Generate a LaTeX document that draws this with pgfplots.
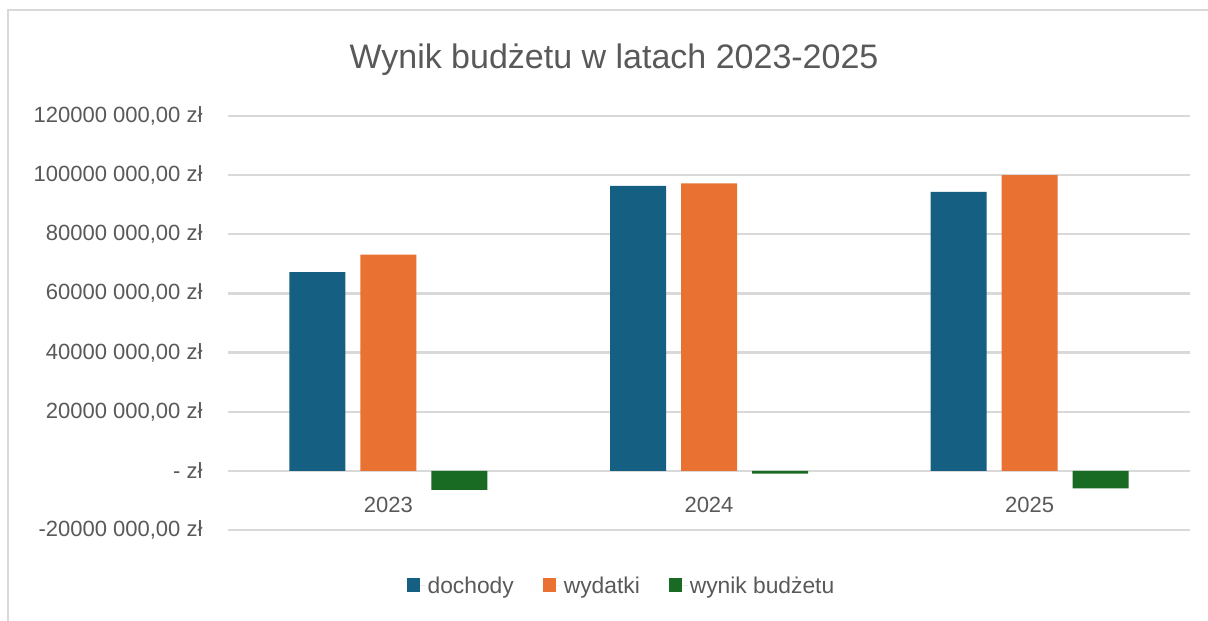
\documentclass[border=0pt]{standalone}
\usepackage{pgfplots}
\pgfplotsset{compat=1.18}
\usepackage{fontspec}
\setmainfont{Liberation Sans}
\definecolor{cDoch}{HTML}{156082}
\definecolor{cWyd}{HTML}{E97132}
\definecolor{cWyn}{HTML}{196B24}
\definecolor{cTxt}{HTML}{595959}
\definecolor{cGrid}{HTML}{D9D9D9}
\begin{document}
\begin{tikzpicture}[x=1pt,y=1pt]
\useasboundingbox (0,0) rectangle (1208,621);
\fill[white] (0,0) rectangle (1208,621);
\draw[cGrid, line width=2pt] (8,0) -- (8,611) -- (1208,611);
\node[text=cTxt, font=\fontsize{34}{40}\selectfont, anchor=base] at (614,552.5) {Wynik budżetu w latach 2023-2025};
\begin{axis}[
  at={(228pt,91pt)}, anchor=south west,
  scale only axis, width=962pt, height=414pt,
  ybar, bar width=56pt, ybar=15pt,
  xmin=-0.5, xmax=2.5, ymin=-20, ymax=120,
  xtick={0,1,2}, xticklabels={2023,2024,2025},
  ytick={-20,0,20,40,60,80,100,120},
  yticklabels={{-20000 000,00 zł},{- zł},{20000 000,00 zł},{40000 000,00 zł},{60000 000,00 zł},{80000 000,00 zł},{100000 000,00 zł},{120000 000,00 zł}},
  axis line style={draw=none},
  major tick length=0pt,
  ymajorgrids, grid style={cGrid, line width=2.2pt},
  tick label style={text=cTxt, font=\fontsize{22}{26}\selectfont},
  yticklabel style={anchor=east, xshift=-22pt},
  xticklabel style={anchor=center, yshift=25pt},
  legend style={at={(0.409,-0.135)}, anchor=center, draw=none, fill=none,
    legend columns=3, font=\fontsize{22.8}{26}\selectfont, text=cTxt,
    /tikz/every even column/.append style={column sep=27pt}},
  legend image code/.code={\path (0pt,0pt) -- (19pt,0pt); \fill[#1] (0pt,-6pt) rectangle (13pt,8pt);},
  clip=false,
]
\addplot[fill=cDoch, draw=none] coordinates {(0,67.2) (1,96.4) (2,94.3)};
\addplot[fill=cWyd, draw=none] coordinates {(0,73.1) (1,97.2) (2,100.0)};
\addplot[fill=cWyn, draw=none] coordinates {(0,-6.4) (1,-0.9) (2,-5.9)};
\legend{dochody, wydatki, wynik budżetu}
\end{axis}
\end{tikzpicture}
\end{document}
